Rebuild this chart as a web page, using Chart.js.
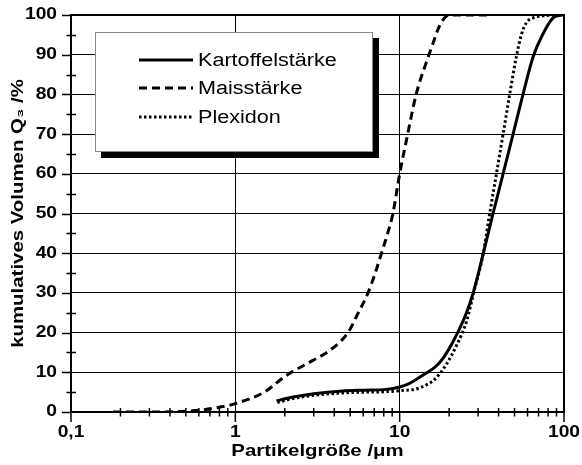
<!DOCTYPE html>
<html><head><meta charset="utf-8">
<script src="https://cdn.jsdelivr.net/npm/chart.js@4"></script>
<style>html,body{margin:0;padding:0;background:#fff}canvas{display:block}</style>
</head><body>
<canvas id="c" width="582" height="465"></canvas>
<script>
// ---- data ----
const xTickValues = [0.1, 1, 10, 100];
const xTickLabels = ['0,1', '1', '10', '100'];
const yTickValues = [0, 10, 20, 30, 40, 50, 60, 70, 80, 90, 100];
const yTickLabels = ['0', '10', '20', '30', '40', '50', '60', '70', '80', '90', '100'];

const seriesNames = ['Kartoffelstärke', 'Maisstärke', 'Plexidon'];

const kartoffelX = [1.78, 2.2, 3, 4.5, 6, 8.3, 10, 11.2, 12.6, 14.5, 16.5, 18.4, 21.3, 25.5, 28, 32.3, 37, 42.6, 49, 56.3, 64.9, 73, 85.5, 97];
const kartoffelY = [2.8, 3.7, 4.6, 5.3, 5.5, 5.7, 6.3, 7.0, 8.2, 9.8, 11.4, 13.6, 18, 25, 30, 40, 50, 60, 70, 80, 89.5, 94.5, 99.2, 100];

const maisX = [0.18, 0.3, 0.45, 0.55, 0.65, 0.75, 0.9, 1, 1.5, 2.04, 2.97, 3.75, 4.85, 5.6, 6.42, 7.1, 7.75, 8.45, 9.1, 10, 11, 12.6, 14.5, 16, 17.5, 20, 34];
const maisY = [0, 0, 0.1, 0.3, 0.6, 1, 1.6, 2.1, 5, 9.2, 13, 15.5, 20, 25, 30, 35, 40, 45, 50, 60, 68.5, 80, 88, 93, 97.3, 100, 100];

const plexX = [1.8, 2.2, 3, 4.5, 6, 8.3, 10, 12.6, 14.5, 16, 17.5, 19.3, 22.2, 25.5, 28.6, 32.3, 35.3, 38.8, 42.6, 46.7, 51.3, 55, 58.9, 65, 75, 100];
const plexY = [2.4, 3.3, 4.2, 4.8, 5.0, 5.1, 5.4, 5.8, 6.8, 7.9, 9.6, 12.1, 16.8, 22.8, 31, 40, 50, 60, 70, 80, 89.5, 95, 98, 99.3, 99.8, 100];

function pts(xs, ys) { return xs.map((x, i) => ({x: x, y: ys[i]})); }

// ---- canvas text stretch (reference text is horizontally wide) ----
const canvas = document.getElementById('c');
const ctx = canvas.getContext('2d');
const SX = 1.2;
const nativeFill = CanvasRenderingContext2D.prototype.fillText;
ctx.fillText = function (t, x, y) {
  this.save(); this.translate(x, y); this.scale(SX, 1);
  nativeFill.call(this, t, 0, 0);
  this.restore();
};

Chart.defaults.font.family = "'Liberation Sans', Arial, sans-serif";
Chart.defaults.color = '#000';

function isMajorX(v) { return xTickValues.some(t => Math.abs(t - v) < 1e-9); }
function minorXValues() {
  const out = [];
  for (let e = -1; e <= 1; e++) {
    for (let m = 1; m <= 9; m++) out.push(parseFloat((m * Math.pow(10, e)).toPrecision(6)));
  }
  out.push(100);
  return out;
}
function zeroPad(s) { s.paddingLeft = 0; s.paddingRight = 0; s.paddingTop = 0; s.paddingBottom = 0; }

const framePlugin = {
  id: 'frame',
  afterDatasetsDraw(chart) {
    const c = chart.ctx, a = chart.chartArea;
    const xs = chart.scales.x, ys = chart.scales.y;
    c.save();
    c.strokeStyle = '#000';
    c.lineWidth = 1.5;
    for (let v = 0; v <= 100; v += 5) {
      const py = Math.round(ys.getPixelForValue(v)) + 0.5;
      c.beginPath();
      if (v % 10 === 0) { c.moveTo(a.left - 9, py); c.lineTo(a.left, py); }
      else { c.moveTo(a.left - 4.5, py); c.lineTo(a.left + 5, py); }
      c.stroke();
    }
    minorXValues().forEach(v => {
      const px = xs.getPixelForValue(v);
      c.beginPath();
      if (isMajorX(v)) { c.moveTo(px, a.bottom); c.lineTo(px, a.bottom + 10); }
      else { c.moveTo(px, a.bottom - 4); c.lineTo(px, a.bottom + 4.5); }
      c.stroke();
    });
    c.lineWidth = 2;
    c.strokeRect(a.left, a.top, a.right - a.left, a.bottom - a.top);
    c.restore();
  },
  afterDraw(chart) {
    const c = chart.ctx;
    const bx = 95, by = 32, bw = 277, bh = 119;
    c.save();
    c.fillStyle = '#000';
    c.fillRect(bx + 6, by + 6, bw + 1, bh + 1);
    c.fillStyle = '#fff';
    c.fillRect(bx, by, bw, bh);
    c.strokeStyle = '#8a8a8a';
    c.lineWidth = 1;
    c.strokeRect(bx + 0.5, by + 0.5, bw, bh);
    const rows = [60, 88, 117];
    chart.data.datasets.forEach((ds, i) => {
      const y = rows[i];
      c.strokeStyle = '#000';
      c.lineWidth = 3;
      c.lineCap = 'butt';
      c.setLineDash(ds.borderDash || []);
      c.beginPath(); c.moveTo(139, y); c.lineTo(193, y); c.stroke();
      c.setLineDash([]);
      c.fillStyle = '#000';
      c.font = "18px 'Liberation Sans', Arial, sans-serif";
      c.textAlign = 'left';
      c.textBaseline = 'middle';
      c.fillText(ds.label, 198, y + 1);
    });
    c.restore();
  }
};

new Chart(ctx, {
  type: 'line',
  data: {
    datasets: [
      {label: seriesNames[0], data: pts(kartoffelX, kartoffelY), borderColor: '#000', borderWidth: 3, borderDash: [], pointRadius: 0, fill: false, cubicInterpolationMode: 'monotone'},
      {label: seriesNames[1], data: pts(maisX, maisY), borderColor: '#000', borderWidth: 3, borderDash: [8, 5], pointRadius: 0, fill: false, cubicInterpolationMode: 'monotone'},
      {label: seriesNames[2], data: pts(plexX, plexY), borderColor: '#000', borderWidth: 3, borderDash: [2.5, 2.5], pointRadius: 0, fill: false, cubicInterpolationMode: 'monotone'}
    ]
  },
  options: {
    responsive: false,
    animation: false,
    devicePixelRatio: 1,
    layout: {padding: {left: 0, top: 15, right: 18, bottom: 0}},
    plugins: {legend: {display: false}, tooltip: {enabled: false}},
    scales: {
      x: {
        type: 'logarithmic', min: 0.1, max: 100,
        afterBuildTicks: s => { s.ticks = minorXValues().map(v => ({value: v})); },
        afterFit: s => { s.height = 53; zeroPad(s); },
        border: {display: false},
        grid: {
          drawTicks: false,
          lineWidth: 1,
          color: c => (c.tick && isMajorX(c.tick.value) && c.tick.value > 0.1 && c.tick.value < 100) ? '#000' : 'rgba(0,0,0,0)'
        },
        ticks: {
          autoSkip: false, maxRotation: 0, minRotation: 0, padding: 11,
          font: {size: 16, weight: 'bold'},
          callback: v => { const i = xTickValues.findIndex(t => Math.abs(t - v) < 1e-9); return i >= 0 ? xTickLabels[i] : ''; }
        },
        title: {display: true, text: 'Partikelgröße /μm', font: {size: 17, weight: 'bold'}, padding: {top: 0, bottom: 3}}
      },
      y: {
        type: 'linear', min: 0, max: 100,
        afterFit: s => { s.width = 71; zeroPad(s); },
        border: {display: false},
        grid: {drawTicks: false, lineWidth: 1, color: '#000'},
        ticks: {
          stepSize: 10, padding: 14,
          font: {size: 16, weight: 'bold'},
          callback: v => { const i = yTickValues.indexOf(v); return i >= 0 ? yTickLabels[i] : ''; }
        },
        title: {display: true, text: 'kumulatives Volumen Q₃ /%', font: {size: 17, weight: 'bold'}, padding: {top: 8, bottom: 0}}
      }
    }
  },
  plugins: [framePlugin]
});
</script>
</body></html>
